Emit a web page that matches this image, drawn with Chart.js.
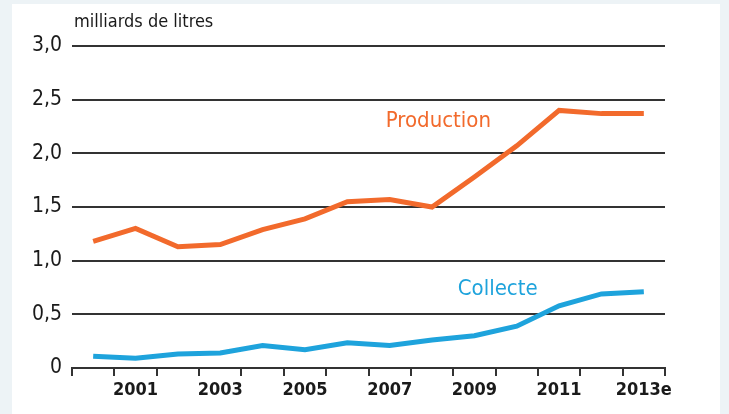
<!DOCTYPE html>
<html>
<head>
<meta charset="utf-8">
<script src="https://cdn.jsdelivr.net/npm/chart.js@4/dist/chart.umd.min.js"></script>
<style>
    html, body { margin: 0; padding: 0; background: #edf3f6; }
    #cadre { position: absolute; left: 12px; top: 4px; width: 708px; height: 410px; background: #ffffff; }
    canvas { display: block; }
</style>
</head>
<body>
<div id="cadre"><canvas id="graphique" width="708" height="410"></canvas></div>
<script>
const annees = ['2000', '2001', '2002', '2003', '2004', '2005', '2006', '2007', '2008', '2009', '2010', '2011', '2012', '2013e'];
const production = [1.18, 1.30, 1.13, 1.15, 1.29, 1.39, 1.55, 1.57, 1.50, 1.78, 2.07, 2.40, 2.37, 2.37];
const collecte = [0.11, 0.09, 0.13, 0.14, 0.21, 0.17, 0.235, 0.21, 0.26, 0.30, 0.39, 0.58, 0.69, 0.71];
const uniteY = 'milliards de litres';

const police = '"Liberation Sans Narrow", "DejaVu Sans Condensed", "Liberation Sans", sans-serif';

// textes posés sur le graphique (unité + noms des séries)
const etiquettes = {
    id: 'etiquettes',
    afterDraw(chart) {
        const ctx = chart.ctx;
        const x = chart.scales.x;
        const y = chart.scales.y;
        ctx.save();
        ctx.textBaseline = 'middle';
        ctx.font = '18px ' + police;
        ctx.fillStyle = '#1a1a1a';
        ctx.textAlign = 'left';
        ctx.fillText(uniteY, chart.chartArea.left + 2, 18);

        ctx.font = '22px ' + police;
        ctx.textAlign = 'center';
        ctx.fillStyle = '#f26a2c';
        ctx.fillText('Production', x.getPixelForValue(8.15), y.getPixelForValue(2.3));
        ctx.fillStyle = '#1ea3dc';
        ctx.fillText('Collecte', x.getPixelForValue(9.55), y.getPixelForValue(0.73));
        ctx.restore();
    }
};

const config = {
    type: 'line',
    data: {
        labels: annees,
        datasets: [{
            label: 'Production',
            data: production,
            borderColor: '#f26a2c',
            borderWidth: 5,
            pointRadius: 0,
            tension: 0
        }, {
            label: 'Collecte',
            data: collecte,
            borderColor: '#1ea3dc',
            borderWidth: 5,
            pointRadius: 0,
            tension: 0
        }]
    },
    options: {
        responsive: false,
        animation: false,
        devicePixelRatio: 1,
        layout: {
            padding: { left: 0, right: 55, top: 42, bottom: 0 }
        },
        plugins: {
            legend: { display: false },
            tooltip: { enabled: false }
        },
        scales: {
            x: {
                offset: true,
                grid: {
                    offset: true,
                    drawOnChartArea: false,
                    drawTicks: true,
                    tickLength: 8,
                    color: '#333333',
                    lineWidth: 2
                },
                border: { display: true, color: '#333333', width: 2 },
                ticks: {
                    autoSkip: false,
                    maxRotation: 0,
                    padding: 4,
                    color: '#1a1a1a',
                    font: { family: police, size: 18, weight: 'bold' },
                    callback: function(value, index) {
                        return index % 2 === 1 ? annees[index] : '';
                    }
                },
                afterFit: function(scale) { scale.height = 46; }
            },
            y: {
                min: 0,
                max: 3,
                grid: {
                    drawTicks: false,
                    color: '#333333',
                    lineWidth: 2
                },
                border: { display: false },
                ticks: {
                    stepSize: 0.5,
                    padding: 10,
                    color: '#1a1a1a',
                    font: { family: police, size: 21 },
                    callback: function(value) {
                        return value === 0 ? '0' : value.toFixed(1).replace('.', ',');
                    }
                },
                afterFit: function(scale) { scale.width = 60; }
            }
        }
    },
    plugins: [etiquettes]
};

const context = document.getElementById('graphique').getContext('2d');
new Chart(context, config);
</script>
</body>
</html>
